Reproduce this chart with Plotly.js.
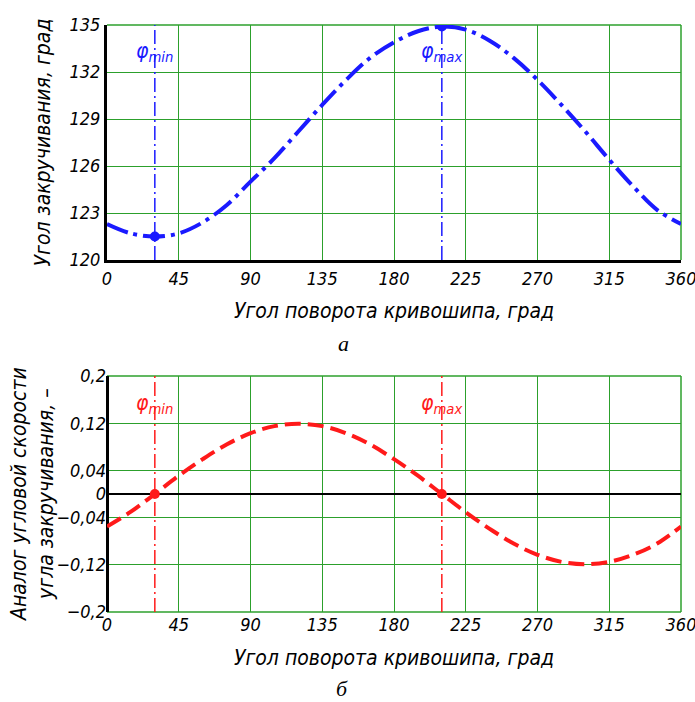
<!DOCTYPE html>
<html>
<head>
<meta charset="utf-8">
<script src="https://cdn.plot.ly/plotly-3.0.1.min.js"></script>
<style>html,body{margin:0;padding:0;background:#fff;}#chart{width:695px;height:702px;}</style>
</head>
<body>
<div id="chart"></div>
<script>
// Crank angle, degrees
const angle = [0,15,30,45,60,75,90,105,120,135,150,165,180,195,210,225,240,255,270,285,300,315,330,345,360];
// (a) twist angle, degrees
const twist = [122.3,121.7,121.5,121.7,122.4,123.5,125.0,126.5,128.2,129.9,131.5,132.9,133.9,134.6,134.9,134.7,134.0,132.9,131.5,129.9,128.2,126.4,124.7,123.2,122.3];
// (b) analogue of angular velocity of twist angle
const velocity = [-0.055,-0.030,0,0.031,0.059,0.084,0.103,0.115,0.119,0.115,0.103,0.084,0.059,0.031,0,-0.031,-0.059,-0.084,-0.103,-0.115,-0.119,-0.115,-0.103,-0.084,-0.055];
// extreme positions
const phiExt = [30, 210];
const twistExt = [121.5, 134.9];
const velExt = [0, 0];
const phiLabels = ['φ<sub>min</sub>', 'φ<sub>max</sub>'];

const xTicks = [0,45,90,135,180,225,270,315,360];
const y1Ticks = [120,123,126,129,132,135];
const y2Ticks = [-0.2,-0.12,-0.04,0,0.04,0.12,0.2];
const y2TickText = ['−0,2','−0,12','−0,04','0','0,04','0,12','0,2'];

const FONT = 'DejaVu Sans Condensed';
const BLUE = '#1a1aff';
const RED = '#ff1a1a';
const GRID = '#2ca02c';

const traces = [];
phiExt.forEach((p) => {
  traces.push({x:[p,p], y:[120,135], xaxis:'x', yaxis:'y', mode:'lines',
    line:{color:BLUE, width:1.5, dash:'14px,4px,2px,4px'}, hoverinfo:'skip', showlegend:false});
  traces.push({x:[p,p], y:[-0.2,0.2], xaxis:'x2', yaxis:'y2', mode:'lines',
    line:{color:RED, width:1.5, dash:'14px,4px,2px,4px'}, hoverinfo:'skip', showlegend:false});
});
traces.push({x:angle, y:twist, xaxis:'x', yaxis:'y', mode:'lines',
  line:{color:BLUE, width:4, dash:'22px,6px,4px,6px', shape:'spline'}, showlegend:false});
traces.push({x:angle, y:velocity, xaxis:'x2', yaxis:'y2', mode:'lines',
  line:{color:RED, width:4, dash:'16px,7px', shape:'spline'}, showlegend:false});
traces.push({x:phiExt, y:twistExt, xaxis:'x', yaxis:'y', mode:'markers',
  marker:{color:BLUE, size:10}, showlegend:false});
traces.push({x:phiExt, y:velExt, xaxis:'x2', yaxis:'y2', mode:'markers',
  marker:{color:RED, size:10}, showlegend:false});

const tickFont = {family:FONT, size:18, color:'#000', style:'italic'};
const titleFont = {family:FONT, size:21, color:'#000', style:'italic'};

const annotations = [];
phiExt.forEach((p,i) => {
  annotations.push({x:p, y:133.3, xref:'x', yref:'y', text:phiLabels[i], showarrow:false,
    xanchor:'center', font:{family:FONT, size:21, color:BLUE, style:'italic'}});
  annotations.push({x:p, y:0.152, xref:'x2', yref:'y2', text:phiLabels[i], showarrow:false,
    xanchor:'center', font:{family:FONT, size:21, color:RED, style:'italic'}});
});
annotations.push({x:(343-107)/574, y:(612-343)/587, xref:'paper', yref:'paper', text:'а', showarrow:false,
  xanchor:'center', yanchor:'middle',
  font:{family:'Liberation Serif, serif', size:22, color:'#000', style:'italic'}});
annotations.push({x:(342-107)/574, y:(612-688)/587, xref:'paper', yref:'paper', text:'б', showarrow:false,
  xanchor:'center', yanchor:'middle',
  font:{family:'Liberation Serif, serif', size:22, color:'#000', style:'italic'}});
// y-axis title of the lower chart, placed precisely
annotations.push({x:(32-107)/574, y:(612-494)/587, xref:'paper', yref:'paper', textangle:-90,
  text:'Аналог угловой скорости<br>угла закручивания, –', showarrow:false,
  xanchor:'center', yanchor:'middle', font:titleFont});

const border = (xa, ya) => ([
  {type:'line', xref:xa+' domain', yref:ya+' domain', x0:0, x1:1, y0:1, y1:1, line:{color:GRID, width:1.5}, layer:'below'},
  {type:'line', xref:xa+' domain', yref:ya+' domain', x0:1, x1:1, y0:0, y1:1, line:{color:GRID, width:1.5}, layer:'below'}
]);
const shapes = border('x','y').concat(border('x2','y2'));
shapes.push({type:'line', xref:'x2 domain', yref:'y2 domain', x0:0, x1:1, y0:0, y1:0, line:{color:GRID, width:1.5}, layer:'below'});

const layout = {
  width:695, height:702,
  margin:{l:107, r:14, t:25, b:90},
  paper_bgcolor:'#fff', plot_bgcolor:'#fff',
  showlegend:false,
  xaxis:{domain:[0,1], anchor:'y', range:[0,360], tickvals:xTicks, ticks:'',
    showgrid:true, gridcolor:GRID, gridwidth:1, zeroline:false,
    showline:true, linecolor:'#000', linewidth:3, ticklabeloverflow:'allow',
    tickfont:tickFont,
    title:{text:'Угол поворота кривошипа, град', font:titleFont, standoff:16}},
  yaxis:{domain:[(612-260)/587, 1], anchor:'x', range:[120,135], tickvals:y1Ticks, ticks:'',
    showgrid:true, gridcolor:GRID, gridwidth:1, zeroline:false,
    showline:true, linecolor:'#000', linewidth:3, ticklabeloverflow:'allow',
    tickfont:tickFont,
    title:{text:'Угол закручивания, град', font:titleFont, standoff:14}},
  xaxis2:{domain:[0,1], anchor:'y2', range:[0,360], tickvals:xTicks, ticks:'',
    showgrid:true, gridcolor:GRID, gridwidth:1,
    zeroline:true, zerolinecolor:'#000', zerolinewidth:3,
    showline:false, ticklabeloverflow:'allow',
    tickfont:tickFont,
    title:{text:'Угол поворота кривошипа, град', font:titleFont, standoff:16}},
  yaxis2:{domain:[0, (612-376)/587], anchor:'x2', range:[-0.2,0.2], tickvals:y2Ticks, ticktext:y2TickText, ticks:'',
    showgrid:true, gridcolor:GRID, gridwidth:1,
    zeroline:true, zerolinecolor:'#000', zerolinewidth:2,
    showline:false, ticklabeloverflow:'allow',
    tickfont:tickFont},
  shapes:shapes,
  annotations:annotations
};

Plotly.newPlot('chart', traces, layout, {displayModeBar:false, staticPlot:true});
</script>
</body>
</html>
